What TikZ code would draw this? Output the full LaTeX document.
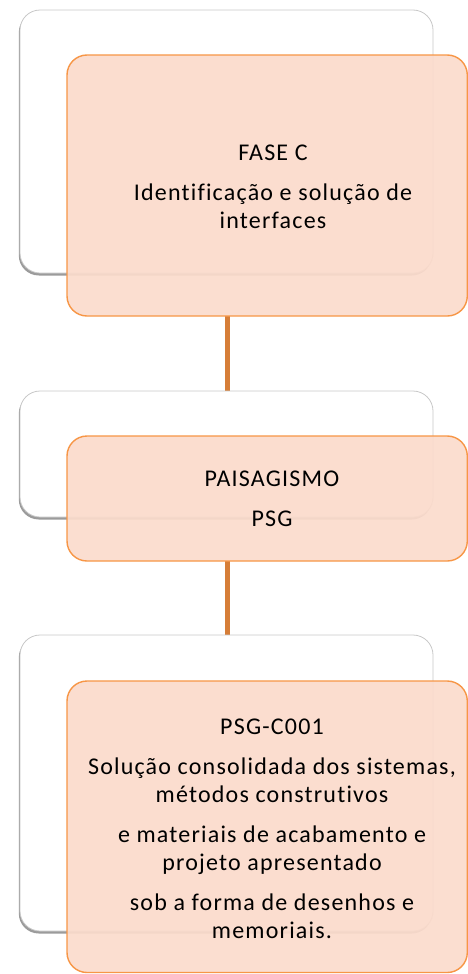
\documentclass[tikz,border=0pt]{standalone}
\usepackage{fontspec}
\setmainfont{Carlito}[LetterSpace=5, Ligatures=NoCommon]
\usetikzlibrary{shadows}
\definecolor{cardline}{RGB}{200,200,200}
\definecolor{peach}{RGB}{251,219,204}
\definecolor{peachline}{RGB}{247,150,70}
\definecolor{linkline}{RGB}{214,126,56}
\tikzset{
  card/.style={draw=cardline, line width=0.8bp, fill=white, rounded corners=20bp,
    drop shadow={shadow xshift=-1.2bp, shadow yshift=-2.5bp, opacity=0.6, fill=black!65}},
  leaf/.style={draw=peachline, line width=1.4bp, fill=peach, fill opacity=0.93, rounded corners=20bp},
  label/.style={anchor=base, align=center, inner sep=0pt, text=black,
    font=\fontsize{24bp}{28bp}\selectfont},
  link/.style={draw=linkline, line width=5bp}
}
\begin{document}
\begin{tikzpicture}[x=1bp, y=-1bp]
\useasboundingbox (0,0) rectangle (468,974);

% connector end points
\coordinate (b1) at (227,316);
\coordinate (a2) at (227,391);
\coordinate (b2) at (227,561);
\coordinate (a3) at (227,635);

% connectors between the levels, behind the cards
\draw[link] (b1) -- (a2);
\draw[link] (b2) -- (a3);

% level 1
\path[card] (20,10) rectangle (433,273);
\path[leaf] (67,55) rectangle (467.3,316);
\node[label] (t1) at (273,228) {FASE C\\[12bp]Identificação e solução de\\interfaces};

% level 2
\path[card] (20,391) rectangle (433,517);
\path[leaf] (67,436) rectangle (467.3,561);
\node[label] (t2) at (272,526) {PAISAGISMO\\[12bp]PSG};

% level 3
\path[card] (20,635) rectangle (433,931);
\path[leaf] (67,681) rectangle (467.3,972.5);
\node[label] (t3) at (272,938) {PSG-C001\\[12bp]Solução consolidada dos sistemas,\\métodos construtivos\\[12bp]e materiais de acabamento e\\projeto apresentado\\[12bp]sob a forma de desenhos e\\memoriais.};
\end{tikzpicture}
\end{document}
